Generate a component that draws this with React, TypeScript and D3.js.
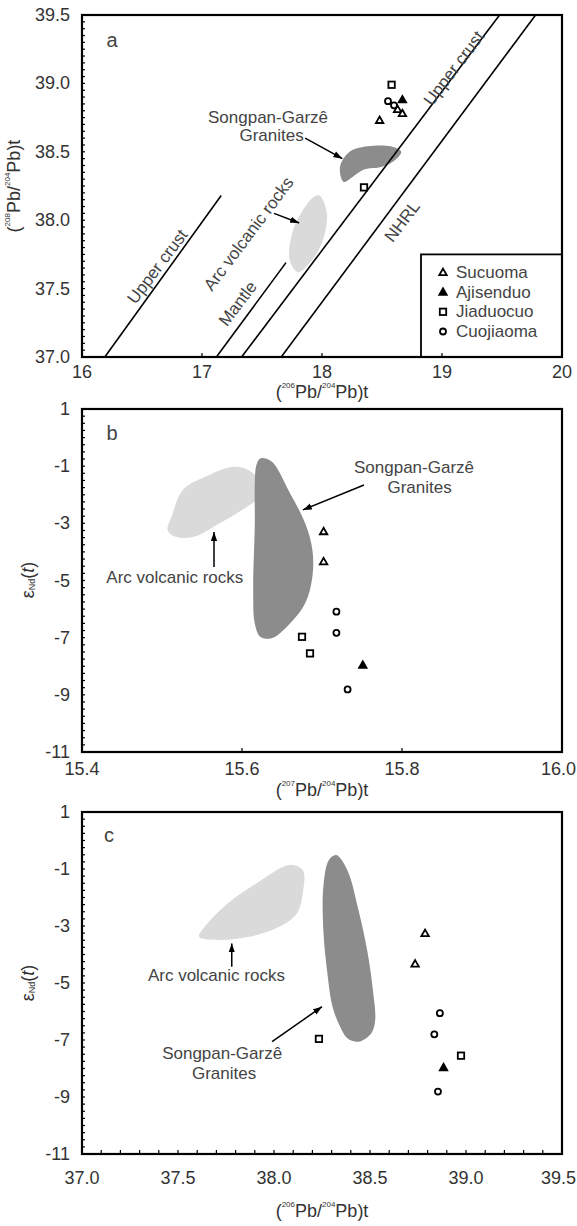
import React from "react";
import * as d3 from "d3";

const FONT = "'Liberation Sans', Arial, Helvetica, sans-serif";
const W = 577;
const H = 1226;

// ---- panel a : 208/204 vs 206/204 ----
const aXTicks = [16, 17, 18, 19, 20];
const aYTicks = [37.0, 37.5, 38.0, 38.5, 39.0, 39.5];
const aLineStarts = [[16.19, 37.0], [17.12, 37.0], [17.33, 37.0], [17.66, 37.0]];
const aLineEnds = [[17.16, 38.18], [17.7, 37.69], [19.48, 39.5], [19.78, 39.5]];
const aGranite = [
  [18.18, 38.28], [18.15, 38.39], [18.23, 38.5], [18.38, 38.54], [18.57, 38.54],
  [18.66, 38.5], [18.61, 38.44], [18.5, 38.39], [18.35, 38.37], [18.26, 38.32],
];
const aArc = [
  [17.98, 38.18], [18.04, 38.05], [18.01, 37.86], [17.92, 37.71], [17.8, 37.62],
  [17.73, 37.71], [17.76, 37.93], [17.86, 38.1], [17.93, 38.17],
];
const aSucuoma = [[18.48, 38.73], [18.63, 38.81], [18.67, 38.78]];
const aAjisenduo = [[18.67, 38.88]];
const aJiaduocuo = [[18.58, 38.99], [18.35, 38.24]];
const aCuojiaoma = [[18.55, 38.87], [18.6, 38.84]];

// ---- panel b : eNd vs 207/204 ----
const bXTicks = [15.4, 15.6, 15.8, 16.0];
const eNdTicks = [1, -1, -3, -5, -7, -9, -11];
const bGranite = [
  [15.623, -0.73], [15.637, -0.84], [15.66, -1.95], [15.679, -3.0], [15.688, -3.93],
  [15.688, -4.87], [15.679, -5.8], [15.66, -6.5], [15.637, -7.02], [15.623, -6.97],
  [15.616, -6.5], [15.614, -5.33], [15.616, -3.0], [15.616, -1.6], [15.618, -0.96],
];
const bArc = [
  [15.507, -3.23], [15.512, -2.77], [15.526, -1.83], [15.554, -1.37], [15.591, -1.02],
  [15.614, -1.25], [15.623, -1.83], [15.618, -2.18], [15.6, -2.53], [15.572, -3.0],
  [15.54, -3.47], [15.517, -3.47],
];
const bSucuoma = [[15.702, -3.29], [15.702, -4.34]];
const bAjisenduo = [[15.751, -7.96]];
const bJiaduocuo = [[15.675, -6.97], [15.685, -7.55]];
const bCuojiaoma = [[15.718, -6.09], [15.718, -6.83], [15.732, -8.81]];

// ---- panel c : eNd vs 208/204 ----
const cXTicks = [37.0, 37.5, 38.0, 38.5, 39.0, 39.5];
const cGranite = [
  [38.324, -0.51], [38.382, -1.04], [38.44, -2.44], [38.488, -3.96], [38.517, -5.36],
  [38.527, -6.3], [38.507, -6.76], [38.44, -7.06], [38.382, -6.94], [38.344, -6.53],
  [38.305, -5.83], [38.276, -4.54], [38.257, -3.14], [38.257, -1.62], [38.286, -0.68],
];
const cArc = [
  [37.61, -3.38], [37.64, -3.02], [37.76, -2.2], [37.91, -1.5], [38.08, -0.86],
  [38.15, -1.04], [38.15, -1.85], [38.12, -2.55], [38.03, -3.02], [37.87, -3.38],
  [37.72, -3.49],
];
const cSucuoma = [[38.787, -3.26], [38.735, -4.33]];
const cAjisenduo = [[38.883, -7.97]];
const cJiaduocuo = [[38.234, -6.96], [38.974, -7.55]];
const cCuojiaoma = [[38.864, -6.06], [38.835, -6.8], [38.854, -8.81]];

const legendNames = ["Sucuoma", "Ajisenduo", "Jiaduocuo", "Cuojiaoma"];

const DARK = "#8c8c8c";
const LIGHT = "#dadada";
const TXT = "#333";

const blobLine = d3.line().curve(d3.curveCatmullRomClosed.alpha(0.5));

function Marker({kind, x, y}) {
  if (kind === "circle") return <circle cx={x} cy={y} r={3} fill="white" stroke="black" strokeWidth={1.8} />;
  if (kind === "square") return <rect x={x - 3.2} y={y - 3.2} width={6.4} height={6.4} fill="white" stroke="black" strokeWidth={1.8} />;
  if (kind === "tri") {
    const p = d3.symbol(d3.symbolTriangle, 24)();
    return <path d={p} transform={`translate(${x},${y + 0.5})`} fill="white" stroke="black" strokeWidth={1.8} />;
  }
  const p = d3.symbol(d3.symbolTriangle, 48)();
  return <path d={p} transform={`translate(${x},${y + 0.5})`} fill="black" />;
}

function Points({x, y, groups}) {
  const kinds = ["tri", "filled", "square", "circle"];
  return (
    <g>
      {groups.map((g, gi) =>
        g.map((d, i) => <Marker key={gi + "-" + i} kind={kinds[gi]} x={x(d[0])} y={y(d[1])} />)
      )}
    </g>
  );
}

function Frame({x, y, xTicks, yTicks, xFmt, yFmt, xMinor, yMinor, labelDy}) {
  const [x0, x1] = x.range();
  const [y0, y1] = y.range();
  return (
    <g>
      {yMinor.map((v, i) => (
        <line key={"ym" + i} x1={x0} x2={x0 + 3} y1={y(v)} y2={y(v)} stroke="black" strokeWidth={1.2} />
      ))}
      {xMinor.map((v, i) => (
        <line key={"xm" + i} x1={x(v)} x2={x(v)} y1={y0} y2={y0 - 4} stroke="black" strokeWidth={1.2} />
      ))}
      <rect x={x0} y={y1} width={x1 - x0} height={y0 - y1} fill="none" stroke="black" strokeWidth={2.2} />
      {xTicks.map((v, i) => {
        const s = xFmt(v);
        // the last label would run past the page edge: pin it to the edge
        const pin = i === xTicks.length - 1 && s.length > 2;
        return (
          <text key={"xt" + i} x={pin ? W - 1 : x(v)} y={y0 + labelDy} textAnchor={pin ? "end" : "middle"}
            dominantBaseline="central" fontSize={18} fill={TXT} fontFamily={FONT}>{s}</text>
        );
      })}
      {yTicks.map((v, i) => (
        <text key={"yt" + i} x={x0 - 12} y={y(v)} textAnchor="end" dominantBaseline="central"
          fontSize={18} fill={TXT} fontFamily={FONT}>{yFmt(v)}</text>
      ))}
    </g>
  );
}

function PbTitle({x, y, top, bottom, rotate}) {
  return (
    <text transform={`translate(${x},${y})${rotate ? " rotate(-90)" : ""}`} textAnchor="middle"
      dominantBaseline="central" fontSize={18} fill={TXT} fontFamily={FONT}>
      (<tspan fontSize={8} dy={-7}>{top}</tspan><tspan dy={7}>Pb/</tspan>
      <tspan fontSize={8} dy={-7}>{bottom}</tspan><tspan dy={7}>Pb)t</tspan>
    </text>
  );
}

function EndTitle({x, y}) {
  return (
    <text transform={`translate(${x},${y}) rotate(-90)`} textAnchor="middle" dominantBaseline="central"
      fontSize={18} fill={TXT} fontFamily={FONT}>
      ε<tspan fontSize={9} dy={4}>Nd</tspan><tspan dy={-4}>(</tspan><tspan fontStyle="italic">t</tspan>)
    </text>
  );
}

function Label({x, y, text, rot = 0, size = 17}) {
  return (
    <text transform={`translate(${x},${y}) rotate(${rot})`} textAnchor="middle" dominantBaseline="central"
      fontSize={size} fill="#444" fontFamily={FONT}>{text}</text>
  );
}

function Arrow({x1, y1, x2, y2}) {
  return <line x1={x1} y1={y1} x2={x2} y2={y2} stroke="black" strokeWidth={1.5} markerEnd="url(#ah)" />;
}

export default function App() {
  const xr = [82, 562];
  // panel a
  const ax = d3.scaleLinear().domain([16, 20]).range(xr);
  const ay = d3.scaleLinear().domain([37, 39.5]).range([357, 15]);
  // panel b
  const bx = d3.scaleLinear().domain([15.4, 16.0]).range(xr);
  const by = d3.scaleLinear().domain([-11, 1]).range([752, 409]);
  // panel c
  const cx = d3.scaleLinear().domain([37, 39.5]).range(xr);
  const cy = d3.scaleLinear().domain([-11, 1]).range([1154, 812]);

  const f1 = (v) => v.toFixed(1);
  const f0 = (v) => String(v);
  const rot = -53;

  const legX = ax(18.825);
  const legTop = ay(37.75);

  return (
    <svg width={W} height={H} style={{position: "absolute", left: 0, top: 0, background: "white"}}>
      <defs>
        <marker id="ah" viewBox="0 0 10 7" refX={10} refY={3.5} markerWidth={9} markerHeight={7}
          markerUnits="userSpaceOnUse" orient="auto">
          <path d="M0,0 L10,3.5 L0,7 z" fill="black" />
        </marker>
      </defs>
      <rect width={W} height={H} fill="white" />

      {/* ---------- panel a ---------- */}
      <path d={blobLine(aArc.map((d) => [ax(d[0]), ay(d[1])]))} fill={LIGHT} />
      <path d={blobLine(aGranite.map((d) => [ax(d[0]), ay(d[1])]))} fill={DARK} />
      {aLineStarts.map((s, i) => (
        <line key={i} x1={ax(s[0])} y1={ay(s[1])} x2={ax(aLineEnds[i][0])} y2={ay(aLineEnds[i][1])}
          stroke="black" strokeWidth={1.6} />
      ))}
      <rect x={legX} y={legTop} width={562 - legX} height={357 - legTop} fill="white" stroke="black" strokeWidth={1.8} />
      {legendNames.map((n, i) => {
        const kinds = ["tri", "filled", "square", "circle"];
        const yy = legTop + 18 + i * 19.7;
        return (
          <g key={n}>
            <Marker kind={kinds[i]} x={legX + 22} y={yy} />
            <text x={legX + 35} y={yy} dominantBaseline="central" fontSize={17} fill="#444" fontFamily={FONT}>{n}</text>
          </g>
        );
      })}
      <Frame x={ax} y={ay} xTicks={aXTicks} yTicks={aYTicks} xFmt={f0} yFmt={f1}
        xMinor={[17, 18, 19]} yMinor={d3.range(37, 39.5001, 0.05)} labelDy={15} />
      <Points x={ax} y={ay} groups={[aSucuoma, aAjisenduo, aJiaduocuo, aCuojiaoma]} />
      <Label x={ax(16.25)} y={ay(39.32)} text="a" size={20} />
      <Label x={ax(16.63)} y={ay(37.66)} text="Upper crust" rot={rot} />
      <Label x={ax(17.39)} y={ay(37.9)} text="Arc volcanic rocks" rot={rot} />
      <Label x={ax(17.3)} y={ay(37.39)} text="Mantle" rot={rot} />
      <Label x={ax(18.67)} y={ay(37.99)} text="NHRL" rot={rot} />
      <Label x={ax(19.1)} y={ay(39.11)} text="Upper crust" rot={rot} />
      <Label x={ax(17.55)} y={ay(38.75)} text="Songpan-Garzê" />
      <Label x={ax(17.58)} y={ay(38.62)} text="Granites" />
      <Arrow x1={ax(17.86)} y1={ay(38.6)} x2={ax(18.17)} y2={ay(38.45)} />
      <Arrow x1={ax(17.6)} y1={ay(38.05)} x2={ax(17.81)} y2={ay(37.98)} />
      <PbTitle x={322} y={392} top="206" bottom="204" />
      <PbTitle x={14} y={186} top="208" bottom="204" rotate />

      {/* ---------- panel b ---------- */}
      <path d={blobLine(bArc.map((d) => [bx(d[0]), by(d[1])]))} fill={LIGHT} />
      <path d={blobLine(bGranite.map((d) => [bx(d[0]), by(d[1])]))} fill={DARK} />
      <Frame x={bx} y={by} xTicks={bXTicks} yTicks={eNdTicks} xFmt={f1} yFmt={f0}
        xMinor={[15.6, 15.8]} yMinor={d3.range(-11, 1.0001, 0.25)} labelDy={17} />
      <Points x={bx} y={by} groups={[bSucuoma, bAjisenduo, bJiaduocuo, bCuojiaoma]} />
      <Label x={bx(15.4375)} y={by(0.16)} text="b" size={20} />
      <Label x={bx(15.815)} y={by(-1.03)} text="Songpan-Garzê" />
      <Label x={bx(15.822)} y={by(-1.73)} text="Granites" />
      <Arrow x1={bx(15.7525)} y1={by(-1.66)} x2={bx(15.676)} y2={by(-2.53)} />
      <Label x={bx(15.516)} y={by(-4.91)} text="Arc volcanic rocks" />
      <Arrow x1={bx(15.565)} y1={by(-4.53)} x2={bx(15.565)} y2={by(-3.3)} />
      <PbTitle x={322} y={790} top="207" bottom="204" />
      <EndTitle x={28} y={580} />

      {/* ---------- panel c ---------- */}
      <path d={blobLine(cArc.map((d) => [cx(d[0]), cy(d[1])]))} fill={LIGHT} />
      <path d={blobLine(cGranite.map((d) => [cx(d[0]), cy(d[1])]))} fill={DARK} />
      <Frame x={cx} y={cy} xTicks={cXTicks} yTicks={eNdTicks} xFmt={f1} yFmt={f0}
        xMinor={d3.range(37.1, 39.45, 0.1)} yMinor={d3.range(-11, 1.0001, 0.25)} labelDy={24} />
      <Points x={cx} y={cy} groups={[cSucuoma, cAjisenduo, cJiaduocuo, cCuojiaoma]} />
      <Label x={cx(37.14)} y={cy(0.19)} text="c" size={20} />
      <Label x={cx(37.7)} y={cy(-4.72)} text="Arc volcanic rocks" />
      <Arrow x1={cx(37.78)} y1={cy(-4.43)} x2={cx(37.78)} y2={cy(-3.61)} />
      <Label x={cx(37.73)} y={cy(-7.46)} text="Songpan-Garzê" />
      <Label x={cx(37.74)} y={cy(-8.16)} text="Granites" />
      <Arrow x1={cx(37.99)} y1={cy(-7.06)} x2={cx(38.25)} y2={cy(-5.83)} />
      <PbTitle x={322} y={1211} top="206" bottom="204" />
      <EndTitle x={28} y={983} />
    </svg>
  );
}
